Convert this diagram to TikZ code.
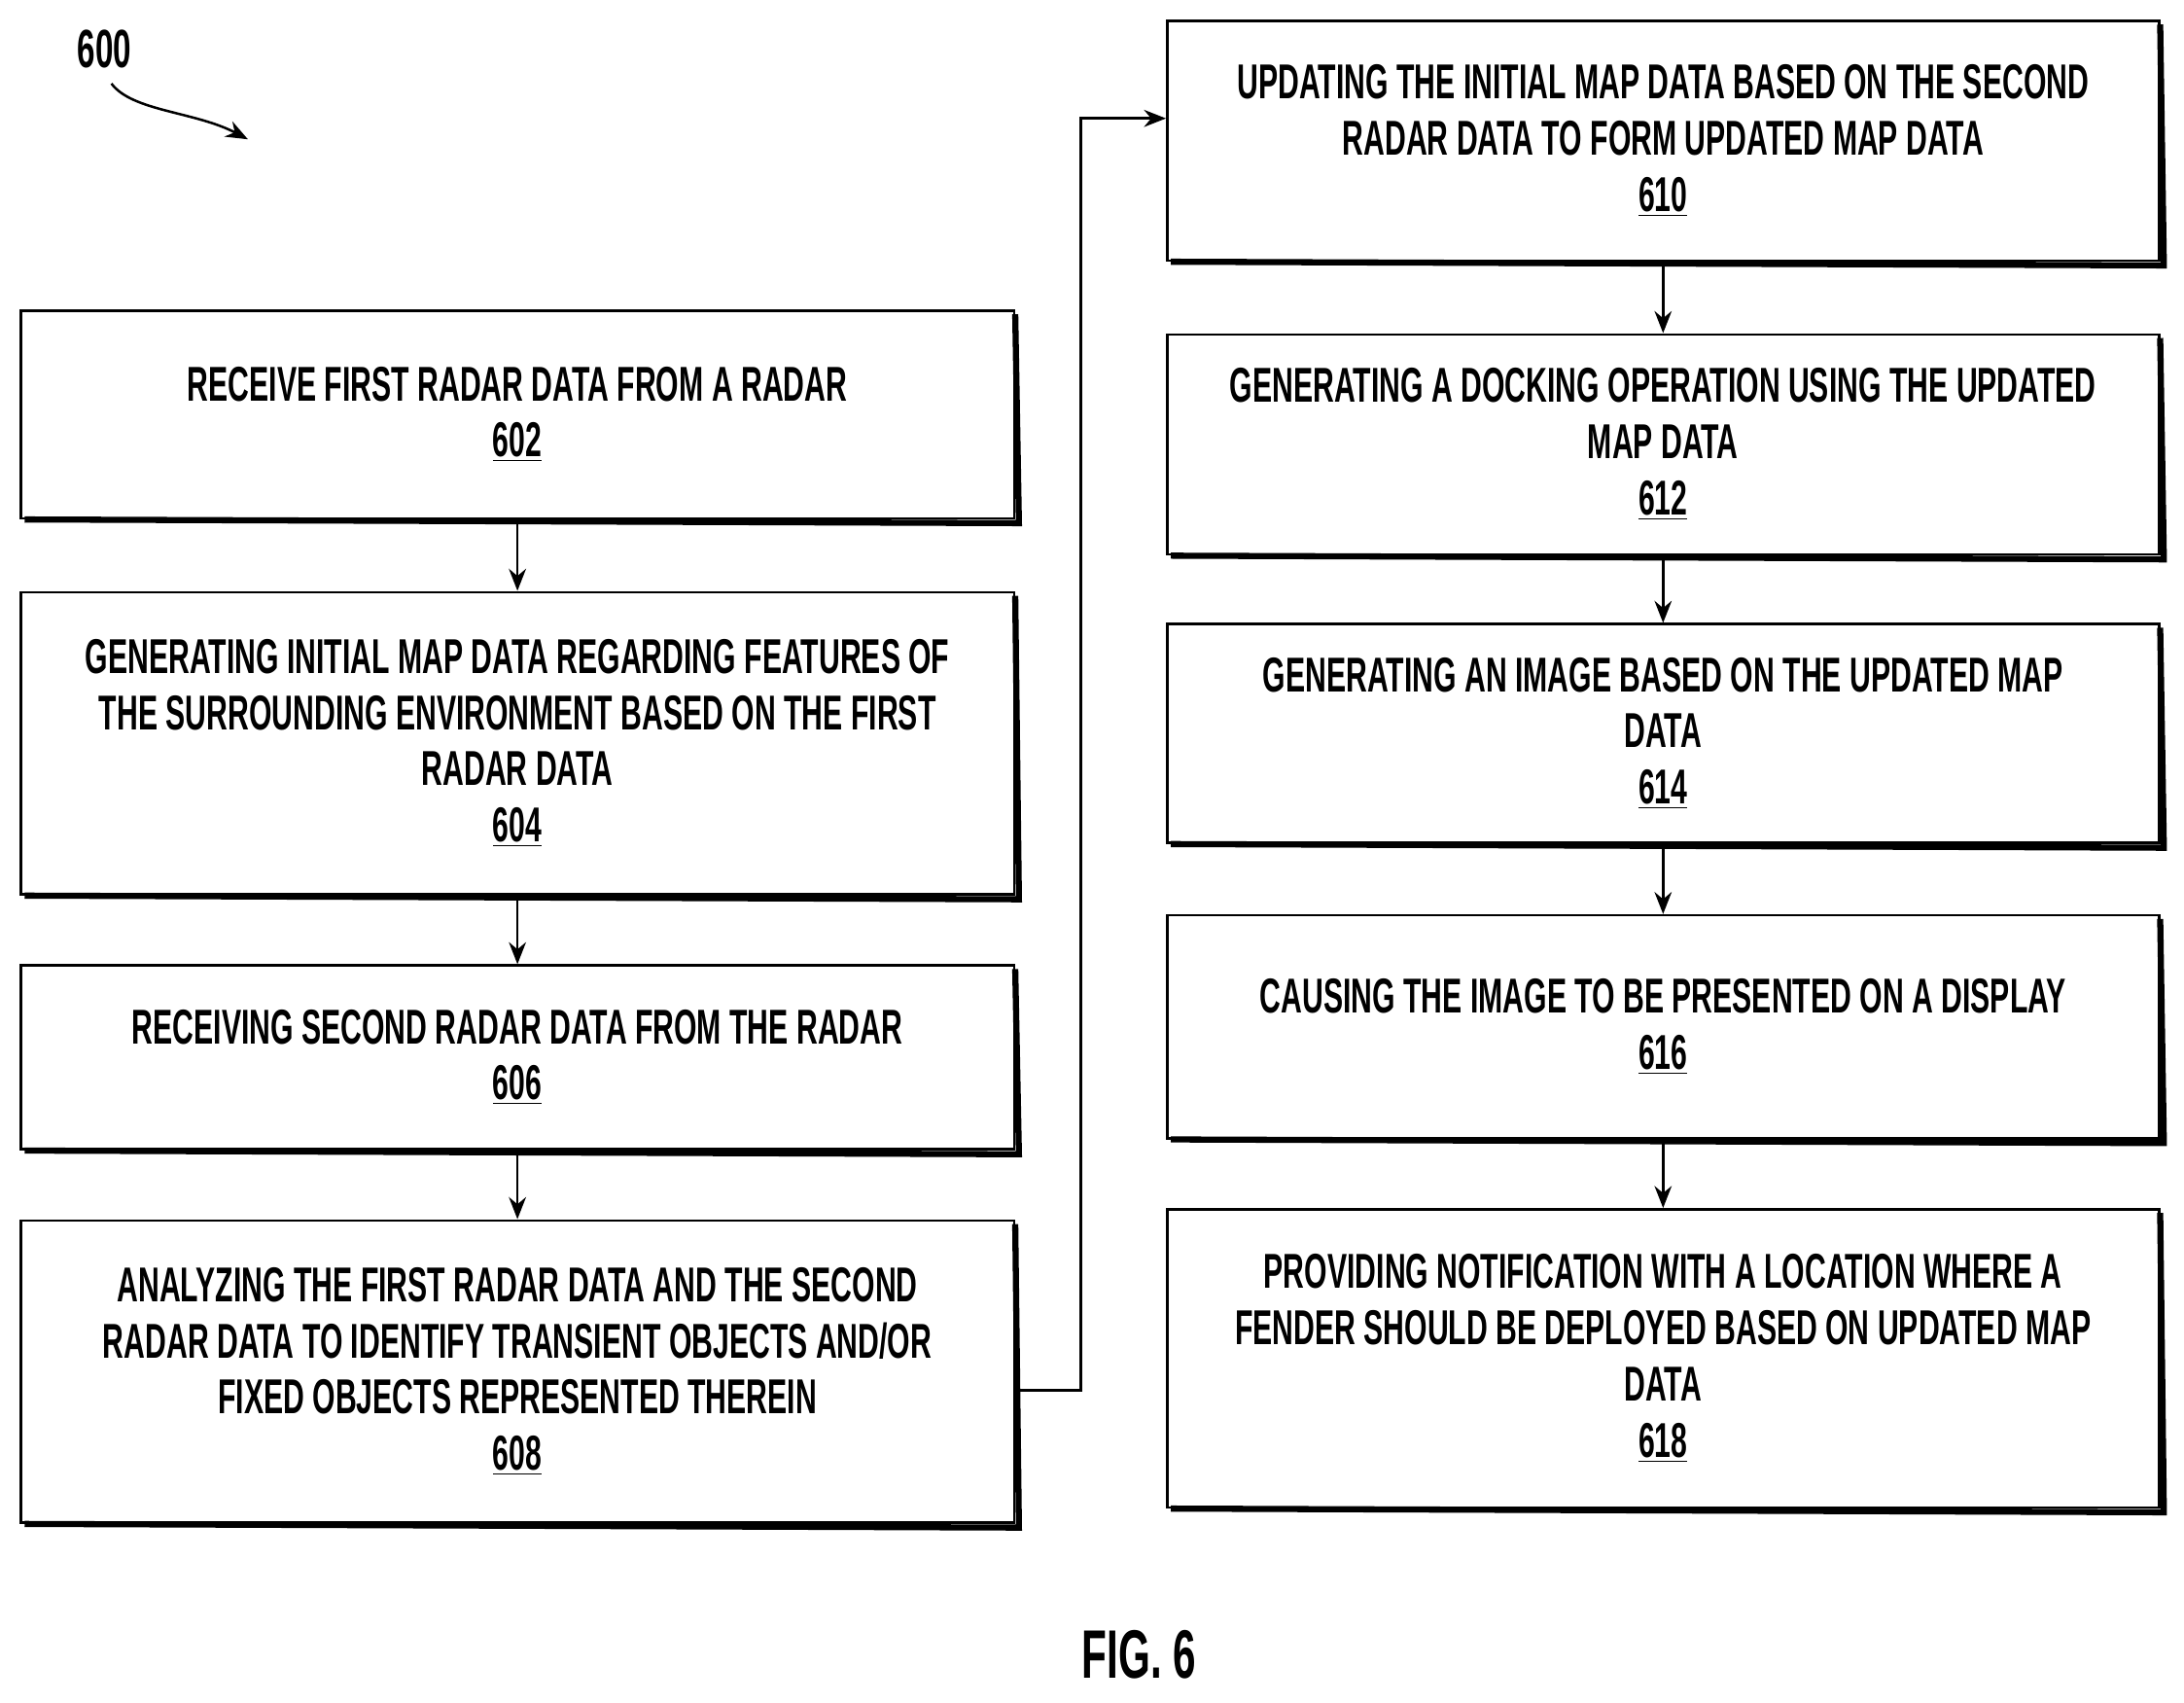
\documentclass[tikz,border=0pt]{standalone}
\usepackage{fontspec}
\setmainfont{Liberation Sans}[FakeStretch=0.6]
\usetikzlibrary{positioning, arrows.meta}
\begin{document}
\begin{tikzpicture}[x=0.02cm, y=-0.02cm,
  stepbox/.style={draw, line width=1pt, align=center, inner sep=4pt,
    font=\bfseries\fontsize{20}{23}\selectfont},
  flow/.style={-{Stealth[length=9pt,width=7pt]}, line width=1pt}]
  \useasboundingbox (0,0) rectangle (1568,1222);
  % left column
  \node[stepbox, minimum width=713*0.02cm, minimum height=149*0.02cm] (b602) at (371.5,297.5)
    {RECEIVE FIRST RADAR DATA FROM A RADAR\\\underline{602}};
  \node[stepbox, minimum width=713*0.02cm, minimum height=217*0.02cm] (b604) at (371.5,533.5)
    {GENERATING INITIAL MAP DATA REGARDING FEATURES OF\\THE SURROUNDING ENVIRONMENT BASED ON THE FIRST\\RADAR DATA\\\underline{604}};
  \node[stepbox, minimum width=713*0.02cm, minimum height=132*0.02cm] (b606) at (371.5,759)
    {RECEIVING SECOND RADAR DATA FROM THE RADAR\\\underline{606}};
  \node[stepbox, minimum width=713*0.02cm, minimum height=217*0.02cm] (b608) at (371.5,984.5)
    {ANALYZING THE FIRST RADAR DATA AND THE SECOND\\RADAR DATA TO IDENTIFY TRANSIENT OBJECTS AND/OR\\FIXED OBJECTS REPRESENTED THEREIN\\\underline{608}};
  % right column
  \node[stepbox, minimum width=712*0.02cm, minimum height=172*0.02cm] (b610) at (1194,101)
    {UPDATING THE INITIAL MAP DATA BASED ON THE SECOND\\RADAR DATA TO FORM UPDATED MAP DATA\\\underline{610}};
  \node[stepbox, minimum width=712*0.02cm, minimum height=158*0.02cm] (b612) at (1194,319)
    {GENERATING A DOCKING OPERATION USING THE UPDATED\\MAP DATA\\\underline{612}};
  \node[stepbox, minimum width=712*0.02cm, minimum height=157*0.02cm] (b614) at (1194,526.5)
    {GENERATING AN IMAGE BASED ON THE UPDATED MAP\\DATA\\\underline{614}};
  \node[stepbox, minimum width=712*0.02cm, minimum height=160*0.02cm] (b616) at (1194,737)
    {CAUSING THE IMAGE TO BE PRESENTED ON A DISPLAY\\\underline{616}};
  \node[stepbox, minimum width=712*0.02cm, minimum height=214*0.02cm] (b618) at (1194,975)
    {PROVIDING NOTIFICATION WITH A LOCATION WHERE A\\FENDER SHOULD BE DEPLOYED BASED ON UPDATED MAP\\DATA\\\underline{618}};
  % heavy right and bottom edges
  \foreach \n in {b602,b604,b606,b608,b610,b612,b614,b616,b618}
    \draw[line width=2.5pt] ([xshift=2pt]\n.south west) -- ([xshift=1.5pt,yshift=-1.5pt]\n.south east) -- ([yshift=-2pt]\n.north east);
  % arrows
  \draw[flow] (b602) -- (b604);
  \draw[flow] (b604) -- (b606);
  \draw[flow] (b606) -- (b608);
  \coordinate (turn) at (776,998);
  \draw[flow] (b608.east |- turn) -- (turn) |- (b610.west |- 0,85);
  \draw[flow] (b610) -- (b612);
  \draw[flow] (b612) -- (b614);
  \draw[flow] (b614) -- (b616);
  \draw[flow] (b616) -- (b618);
  % figure labels
  \node[font=\bfseries\fontsize{22}{26}\selectfont] (ref) at (75,35) {600};
  \coordinate (refend) at (178,100);
  \draw[flow] (80,60) .. controls (95,80) and (140,80) .. (refend);
  \node[font=\bfseries\fontsize{28}{30}\selectfont] (fig) at (818,1188) {FIG. 6};
\end{tikzpicture}
\end{document}
